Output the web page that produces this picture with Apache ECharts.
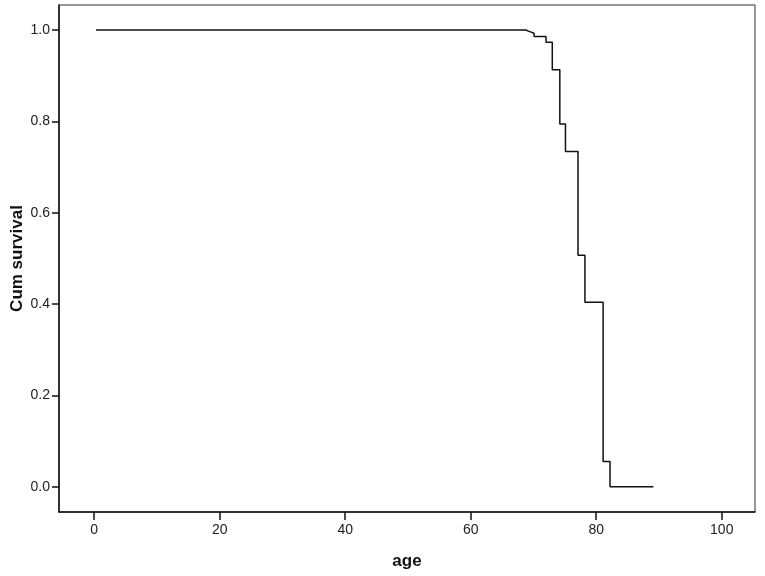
<!DOCTYPE html>
<html>
<head>
<meta charset="utf-8">
<script src="https://cdn.jsdelivr.net/npm/echarts@6/dist/echarts.min.js"></script>
<style>
  html, body { margin: 0; padding: 0; background: #fff; }
  #main { width: 765px; height: 576px; }
</style>
</head>
<body>
<div id="main"></div>
<script>
// 生存曲线数据 (age, cum survival)
var ages = [0.3, 68.8, 69.3, 70.1, 72.0, 73.0, 74.2, 75.1, 77.1, 78.2, 81.1, 82.2, 89.1];
var survival = [1.0, 0.997, 0.993, 0.986, 0.973, 0.913, 0.794, 0.734, 0.507, 0.404, 0.055, 0.0, 0.0];
var xTicks = [0, 20, 40, 60, 80, 100];
var yTicks = [0, 0.2, 0.4, 0.6, 0.8, 1.0];

var main = document.getElementById('main');
var chart = echarts.init(main);

var points = ages.map(function (a, i) {
    return [a, survival[i]];
});

var font = 'Liberation Sans, Arial, sans-serif';

var option = {
    animation: false,
    backgroundColor: '#ffffff',
    grid: {
        left: 59,
        right: 10,
        top: 5,
        bottom: 64,
        containLabel: false,
        outerBoundsMode: 'none',
        show: true,
        borderColor: '#333',
        borderWidth: 1
    },
    xAxis: {
        type: 'value',
        min: -5.6,
        max: 105.3,
        name: 'age',
        nameLocation: 'middle',
        nameGap: 41,
        nameMoveOverlap: false,
        nameTextStyle: { fontFamily: font, fontSize: 17, fontWeight: 'bold', color: '#111' },
        axisLine: { show: true, onZero: false, lineStyle: { color: '#111', width: 1.5 } },
        axisTick: { show: true, inside: false, length: 8, customValues: xTicks, lineStyle: { color: '#111', width: 1.5 } },
        axisLabel: { customValues: xTicks, margin: 11, fontFamily: font, fontSize: 14, color: '#222' },
        splitLine: { show: false }
    },
    yAxis: {
        type: 'value',
        min: -0.0554,
        max: 1.0547,
        name: 'Cum survival',
        nameLocation: 'middle',
        nameGap: 33,
        nameMoveOverlap: false,
        nameTextStyle: { fontFamily: font, fontSize: 17, fontWeight: 'bold', color: '#111' },
        axisLine: { show: true, onZero: false, lineStyle: { color: '#111', width: 1.5 } },
        axisTick: { show: true, inside: false, length: 7, customValues: yTicks, lineStyle: { color: '#111', width: 1.5 } },
        axisLabel: {
            customValues: yTicks,
            margin: 9,
            fontFamily: font,
            fontSize: 14,
            color: '#222',
            formatter: function (v) { return v.toFixed(1); }
        },
        splitLine: { show: false }
    },
    series: [
        {
            type: 'line',
            step: 'end',
            data: points,
            symbol: 'none',
            lineStyle: { color: '#111', width: 1.5 }
        }
    ]
};

chart.setOption(option);
</script>
</body>
</html>
